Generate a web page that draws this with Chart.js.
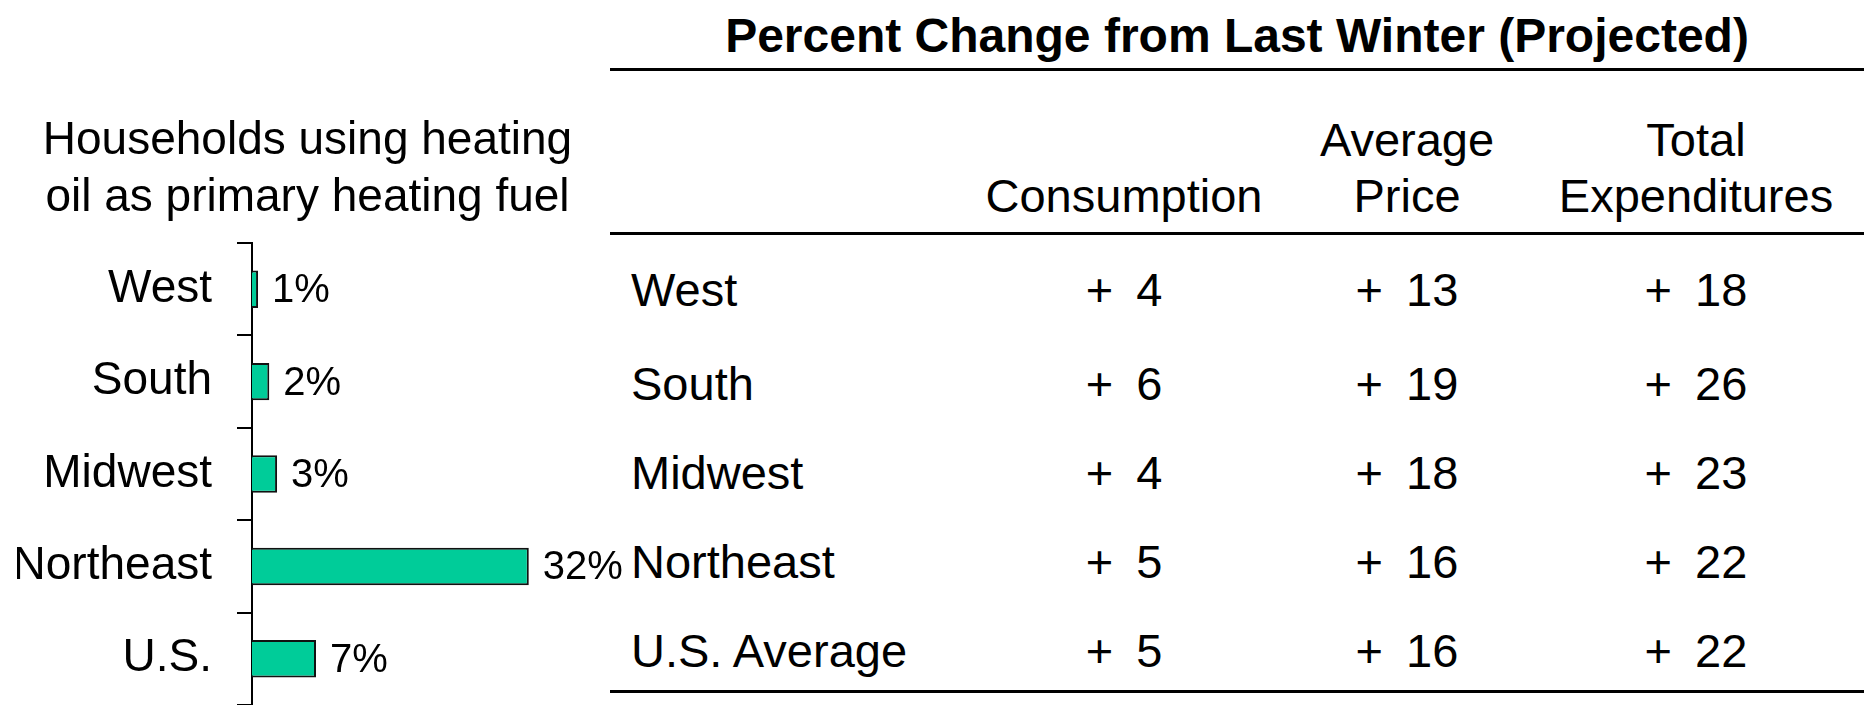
<!DOCTYPE html>
<html>
<head>
<meta charset="utf-8">
<script src="https://cdn.jsdelivr.net/npm/chart.js@4"></script>
<style>
  html, body { margin: 0; padding: 0; background: #fff; }
  #stage { position: relative; width: 1867px; height: 705px; overflow: hidden; background: #fff;
           font-family: "Liberation Sans", Arial, Helvetica, sans-serif; color: #000; }
  #chartBox { position: absolute; left: 0; top: 0; width: 630px; height: 705px; }
  .t { position: absolute; transform: translate(-50%, -50%); line-height: 1; white-space: nowrap; font-size: 47px; }
  .tl { position: absolute; transform: translate(0, -50%); line-height: 1; white-space: nowrap; font-size: 47px; }
  .num { word-spacing: 10px; }
  .rule { position: absolute; left: 610px; width: 1254px; height: 3px; background: #000; }
</style>
</head>
<body>
<div id="stage">
  <div id="chartBox"><canvas id="c"></canvas></div>
  <div id="table"></div>
</div>
<script>
// ---- Data ----
const categories = ['West', 'South', 'Midwest', 'Northeast', 'U.S.'];
const shareValues = [0.7, 2.0, 2.9, 32, 7.4];          // % of households using heating oil
const chartTitle = ['Households using heating', 'oil as primary heating fuel'];

const tableTitle = 'Percent Change from Last Winter (Projected)';
const tableRegions = ['West', 'South', 'Midwest', 'Northeast', 'U.S. Average'];
const headerLine1 = ['', 'Average', 'Total'];
const headerLine2 = ['Consumption', 'Price', 'Expenditures'];
const consumption = [4, 6, 4, 5, 5];
const averagePrice = [13, 19, 18, 16, 16];
const totalExpenditures = [18, 26, 23, 22, 22];

// ---- Chart ----
const FONT = '"Liberation Sans", Arial, Helvetica, sans-serif';

const valueLabelPlugin = {
  id: 'valueLabels',
  afterDatasetsDraw(chart) {
    const ctx = chart.ctx;
    const meta = chart.getDatasetMeta(0);
    ctx.save();
    ctx.font = '40px ' + FONT;
    ctx.fillStyle = '#000';
    ctx.textAlign = 'left';
    ctx.textBaseline = 'middle';
    meta.data.forEach((bar, i) => {
      const v = chart.data.datasets[0].data[i];
      ctx.fillText(Math.round(v) + '%', bar.x + 14, bar.y + 2);
    });
    ctx.restore();
  }
};

new Chart(document.getElementById('c'), {
  type: 'bar',
  data: {
    labels: categories,
    datasets: [{
      data: shareValues,
      backgroundColor: '#00CC99',
      borderColor: '#111',
      borderWidth: 2,
      categoryPercentage: 1,
      barPercentage: 0.405
    }]
  },
  options: {
    indexAxis: 'y',
    responsive: true,
    maintainAspectRatio: false,
    animation: false,
    layout: { padding: { left: 17, right: 32, top: 0, bottom: 0 } },
    plugins: {
      legend: { display: false },
      tooltip: { enabled: false },
      title: {
        display: true,
        text: chartTitle,
        color: '#000',
        font: { family: FONT, size: 46, weight: 'normal', lineHeight: 1.24 },
        padding: { top: 113, bottom: 16 }
      }
    },
    scales: {
      x: { display: false, min: 0, max: 40 },
      y: {
        offset: true,
        grid: { display: true, drawOnChartArea: false, drawTicks: true, tickLength: 15, color: '#000', lineWidth: 2, offset: true },
        border: { display: true, color: '#000', width: 2 },
        ticks: { color: '#000', padding: 25, font: { family: FONT, size: 46 } },
        afterFit(scale) {
          scale.width = 235;
          scale.paddingTop = 0;
          scale.paddingBottom = 0;
        }
      }
    }
  },
  plugins: [valueLabelPlugin]
});

// ---- Table ----
const tbl = document.getElementById('table');
function addText(cls, txt, x, y, extra) {
  const d = document.createElement('div');
  d.className = cls;
  d.textContent = txt;
  d.style.left = x + 'px';
  d.style.top = y + 'px';
  if (extra) Object.assign(d.style, extra);
  tbl.appendChild(d);
}
function addRule(y) {
  const d = document.createElement('div');
  d.className = 'rule';
  d.style.top = y + 'px';
  tbl.appendChild(d);
}
const colX = [1124, 1407, 1696];
const rowY = [289, 383, 472, 561, 650];

addText('t', tableTitle, 1237, 36, { fontWeight: 'bold', fontSize: '48px' });
addRule(68);
headerLine1.forEach((h, i) => { if (h) addText('t', h, colX[i], 139); });
headerLine2.forEach((h, i) => addText('t', h, colX[i], 195));
addRule(232);
tableRegions.forEach((r, i) => {
  addText('tl', r, 631, rowY[i]);
  addText('t num', '+ ' + consumption[i], colX[0], rowY[i]);
  addText('t num', '+ ' + averagePrice[i], colX[1], rowY[i]);
  addText('t num', '+ ' + totalExpenditures[i], colX[2], rowY[i]);
});
addRule(690);
</script>
</body>
</html>
